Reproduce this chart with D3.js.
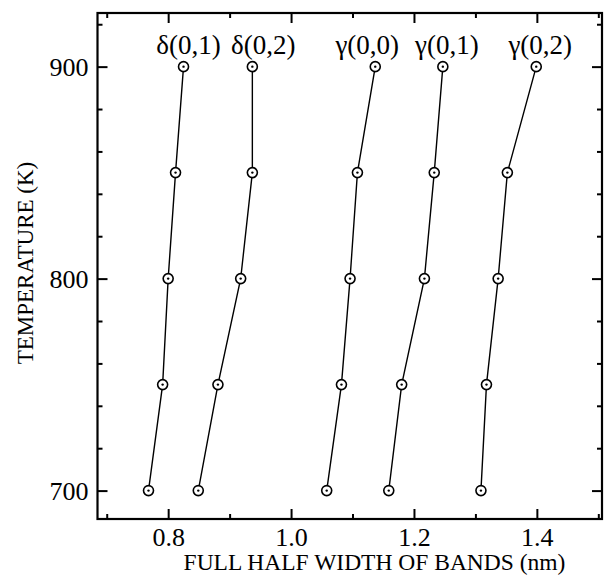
<!DOCTYPE html>
<html>
<head>
<meta charset="utf-8">
<script src="https://cdn.jsdelivr.net/npm/d3@7"></script>
<style>
  body { margin: 0; background: #fff; }
</style>
</head>
<body>
<svg width="607" height="577"></svg>
<script>
// temperatures (K)
const temps = [700, 750, 800, 850, 900];
// band names
const bands = ['δ(0,1)', 'δ(0,2)', 'γ(0,0)', 'γ(0,1)', 'γ(0,2)'];
// full half width (nm) per band, same order as temps
const delta01 = [0.768, 0.791, 0.800, 0.812, 0.825];
const delta02 = [0.849, 0.881, 0.918, 0.937, 0.937];
const gamma00 = [1.058, 1.082, 1.096, 1.108, 1.137];
const gamma01 = [1.159, 1.180, 1.217, 1.233, 1.247];
const gamma02 = [1.309, 1.318, 1.337, 1.352, 1.399];
const xMajor = [0.8, 1.0, 1.2, 1.4];
const xMinor = [0.7, 0.9, 1.1, 1.3, 1.5];
const yMajor = [700, 800, 900];
const yMinor = [720, 740, 760, 780, 820, 840, 860, 880, 920];

const series = [delta01, delta02, gamma00, gamma01, gamma02];
// horizontal nudge of each band label (px)
const labelNudge = [5, 11, -8, 4, 4];
const serif = '"Liberation Serif", "Times New Roman", serif';

const svg = d3.select('svg');
const margin = { top: 13, right: 5, bottom: 58, left: 97.5 };
const width = +svg.attr('width');
const height = +svg.attr('height');
const innerWidth = width - margin.left - margin.right;
const innerHeight = height - margin.top - margin.bottom;

const xScale = d3.scaleLinear().domain([0.685, 1.506]).range([0, innerWidth]);
const yScale = d3.scaleLinear().domain([686.6, 925.3]).range([innerHeight, 0]);

const g = svg.append('g')
  .attr('transform', `translate(${margin.left},${margin.top})`);

// ticks on all four sides, pointing inward
const addAxis = (axis, transform, showLabels) => {
  const ag = g.append('g').attr('transform', transform).call(axis)
    .attr('font-family', serif);
  ag.select('.domain').remove();
  ag.selectAll('line').attr('stroke', '#000').attr('stroke-width', 2);
  if (!showLabels) ag.selectAll('text').remove();
  return ag;
};

const xMaj = d3.axisBottom(xScale).tickValues(xMajor).tickSize(-10).tickFormat(d3.format('.1f'));
const xl = addAxis(xMaj, `translate(0,${innerHeight})`, true);
xl.selectAll('text')
  .style('font-family', serif).style('font-size', '26px')
  .attr('fill', '#000').attr('y', 27).attr('dy', 0);
addAxis(d3.axisBottom(xScale).tickValues(xMinor).tickSize(-5), `translate(0,${innerHeight})`, false);
addAxis(d3.axisTop(xScale).tickValues(xMajor).tickSize(-10), 'translate(0,0)', false);
addAxis(d3.axisTop(xScale).tickValues(xMinor).tickSize(-5), 'translate(0,0)', false);

const yMaj = d3.axisLeft(yScale).tickValues(yMajor).tickSize(-10);
const yl = addAxis(yMaj, 'translate(0,0)', true);
yl.selectAll('text')
  .style('font-family', serif).style('font-size', '26px')
  .attr('fill', '#000').attr('x', -9).attr('dy', '0.34em');
addAxis(d3.axisLeft(yScale).tickValues(yMinor).tickSize(-5), 'translate(0,0)', false);
addAxis(d3.axisRight(yScale).tickValues(yMajor).tickSize(-10), `translate(${innerWidth},0)`, false);
addAxis(d3.axisRight(yScale).tickValues(yMinor).tickSize(-5), `translate(${innerWidth},0)`, false);

// frame
g.append('rect')
  .attr('width', innerWidth)
  .attr('height', innerHeight)
  .attr('fill', 'none')
  .attr('stroke', '#000')
  .attr('stroke-width', 2.2);

const line = d3.line()
  .x(d => xScale(d.x))
  .y(d => yScale(d.t));

series.forEach((vals, i) => {
  const pts = vals.map((v, j) => ({ x: v, t: temps[j] }));
  g.append('path')
    .datum(pts)
    .attr('d', line)
    .attr('fill', 'none')
    .attr('stroke', '#000')
    .attr('stroke-width', 1.4);

  const m = g.selectAll(null).data(pts).enter().append('g')
    .attr('transform', d => `translate(${xScale(d.x)},${yScale(d.t)})`);
  m.append('circle').attr('r', 5).attr('fill', '#fff').attr('stroke', '#000').attr('stroke-width', 1.6);
  m.append('circle').attr('r', 1.2).attr('fill', '#000');

  const top = pts[pts.length - 1];
  g.append('text')
    .attr('x', xScale(top.x) + labelNudge[i])
    .attr('y', yScale(top.t) - 13)
    .attr('text-anchor', 'middle')
    .style('font-family', serif)
    .style('font-size', '27px')
    .text(bands[i]);
});

// axis titles
g.append('text')
  .attr('x', 277)
  .attr('y', innerHeight + 51)
  .attr('text-anchor', 'middle')
  .style('font-family', serif)
  .style('font-size', '23.5px')
  .text('FULL HALF WIDTH OF BANDS (nm)');

g.append('text')
  .attr('transform', 'rotate(-90)')
  .attr('x', -250)
  .attr('y', -65)
  .attr('text-anchor', 'middle')
  .style('font-family', serif)
  .style('font-size', '23px')
  .text('TEMPERATURE (K)');
</script>
</body>
</html>
